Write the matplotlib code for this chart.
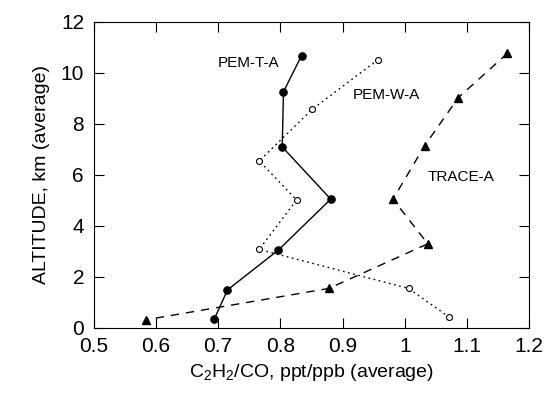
import matplotlib
matplotlib.use("Agg")
import matplotlib.pyplot as plt

plt.rcParams['font.family'] = ['Liberation Sans', 'DejaVu Sans']

# PEM-T-A (filled circles, solid)
pemt_x = [0.834, 0.805, 0.803, 0.881, 0.797, 0.715, 0.694]
pemt_y = [10.67, 9.25, 7.09, 5.04, 3.05, 1.48, 0.35]

# PEM-W-A (open circles, dotted)
pemw_x = [0.957, 0.851, 0.766, 0.826, 0.766, 1.006, 1.071]
pemw_y = [10.51, 8.56, 6.54, 5.01, 3.07, 1.54, 0.42]

# TRACE-A (filled triangles, dashed)
trace_x = [1.165, 1.086, 1.032, 0.981, 1.037, 0.878, 0.584]
trace_y = [10.76, 9.02, 7.14, 5.04, 3.29, 1.54, 0.31]

xticks = [0.5, 0.6, 0.7, 0.8, 0.9, 1.0, 1.1, 1.2]
xtick_labels = ['0.5', '0.6', '0.7', '0.8', '0.9', '1', '1.1', '1.2']
yticks = [0, 2, 4, 6, 8, 10, 12]

fig = plt.figure(figsize=(5.45, 3.97), dpi=100)
ax = fig.add_axes([0.172, 0.1746, 0.799, 0.7707])

ax.plot(pemt_x, pemt_y, '-', color='black', lw=1.0, marker='o', ms=5.2,
        mfc='black', mec='black')
ax.plot(pemw_x, pemw_y, linestyle=(0, (1.2, 2.6)), color='black', lw=1.0,
        marker='o', ms=4.3, mfc='white', mec='black', mew=0.8)
ax.plot(trace_x, trace_y, linestyle=(0, (6, 5)), color='black', lw=1.0,
        marker='^', ms=5.5, mfc='black', mec='black')

ax.text(0.798, 10.38, 'PEM-T-A', fontsize=11, ha='right', va='center')
ax.text(0.917, 9.13, 'PEM-W-A', fontsize=11, ha='left', va='center')
ax.text(1.036, 5.91, 'TRACE-A', fontsize=11, ha='left', va='center')

ax.set_xlim(0.5, 1.2)
ax.set_ylim(0, 12)
ax.set_xticks(xticks)
ax.set_xticklabels(xtick_labels)
ax.set_yticks(yticks)
ax.tick_params(direction='in', top=True, right=True, length=7, width=0.8,
               labelsize=15, pad=7)
for s in ax.spines.values():
    s.set_linewidth(0.8)

ax.set_xlabel(r'C$\mathregular{_2}$H$\mathregular{_2}$/CO, ppt/ppb (average)',
              fontsize=14, labelpad=4)
ax.set_ylabel('ALTITUDE, km (average)', fontsize=14, labelpad=8)

fig.savefig('out.png', dpi=100)
